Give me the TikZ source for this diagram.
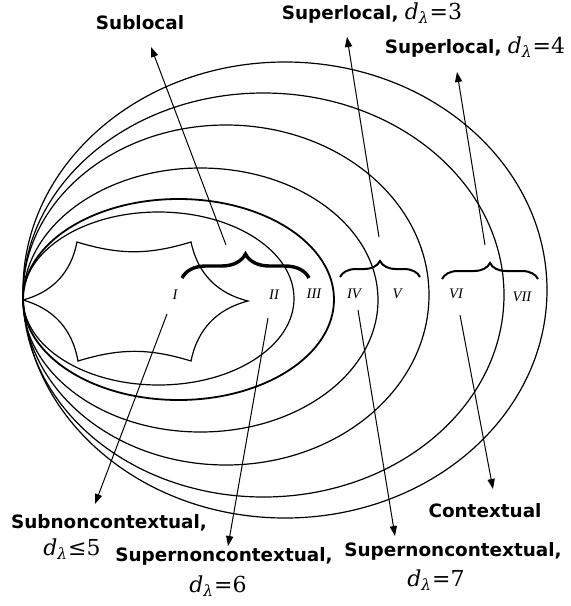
\documentclass[tikz,border=0pt]{standalone}
\usepackage{fontspec}
\setsansfont{DejaVu Sans}
\newfontfamily\dvserif{DejaVu Serif}
\newfontfamily\romfont{Liberation Serif}
\usepackage{tikz}
\usetikzlibrary{arrows.meta,decorations.pathreplacing}
\newcommand{\dval}[1]{{\dvserif\mdseries\fontsize{11}{12}\selectfont{\itshape d\textsubscript{λ}}#1}}
\tikzset{
  ring/.style={draw=black, line width=0.6pt},
  boldring/.style={ring, line width=0.9pt},
  cell/.style={draw=black, line width=0.6pt},
  region/.style={font=\romfont\itshape\fontsize{7.3}{8}\selectfont, inner sep=0pt},
  lbl/.style={font=\sffamily\bfseries\fontsize{9.2}{10}\selectfont, inner sep=0pt},
  mlbl/.style={inner sep=0pt},
  ptr/.style={-{Triangle[length=5pt,width=3.6pt]}, line width=0.5pt},
  bigbrace/.style={decorate, decoration={brace, amplitude=12pt}, line width=1.7pt},
  smbrace/.style={decorate, decoration={brace, amplitude=8pt}, line width=1pt}
}

\begin{document}
\begin{tikzpicture}[x=0.5pt, y=-0.5pt]
  \useasboundingbox (0,0) rectangle (571,606);

  % nested classes, all touching at the left
  \draw[ring]     (158.5,298.5) ellipse [x radius=135.5, y radius=86.5];
  \draw[boldring] (178.5,299.5) ellipse [x radius=155.5, y radius=100.5];
  \draw[ring]     (200.5,300)   ellipse [x radius=177.5, y radius=132];
  \draw[ring]     (226,295)     ellipse [x radius=203,   y radius=170];
  \draw[ring]     (263.5,295)   ellipse [x radius=240.5, y radius=202];
  \draw[ring]     (285,290)     ellipse [x radius=262,   y radius=228];

  % innermost star
  \draw[cell] (23,300) to[bend right=32] (77,242) to[bend right=17] (191,242)
    to[bend right=32] (248,301) to[bend right=32] (191,361)
    to[bend right=17] (78,361) to[bend right=32] (23,300);

  % region numerals
  \node[region] (rI)   at (175,295) {I};
  \node[region] (rII)  at (274,295) {II};
  \node[region] (rIII) at (314,294) {III};
  \node[region] (rIV)  at (354,294) {IV};
  \node[region] (rV)   at (397,294) {V};
  \node[region] (rVI)  at (456,294) {VI};
  \node[region] (rVII) at (522,297) {VII};

  % braces
  \draw[bigbrace] (182,278) -- (309,278);
  \draw[smbrace]  (340,277) -- (420,277);
  \draw[smbrace]  (442,279) -- (538,279);

  % class names
  \node[lbl] (sublocal) at (140,23) {Sublocal};
  \node[lbl] (suploc3)  at (372,13) {Superlocal, \dval{=3}};
  \node[lbl] (suploc4)  at (475,47) {Superlocal, \dval{=4}};
  \node[lbl] (subnc)    at (109,523) {Subnoncontextual,};
  \node[mlbl] (subncd)  at (72,549) {\dval{≤5}};
  \node[lbl] (supnc6)   at (224,556) {Supernoncontextual,};
  \node[mlbl] (supnc6d) at (218,586) {\dval{=6}};
  \node[lbl] (contx)    at (485,511) {Contextual};
  \node[lbl] (supnc7)   at (453,551) {Supernoncontextual,};
  \node[mlbl] (supnc7d) at (436,580) {\dval{=7}};

  % pointer ends
  \coordinate (pSub)  at (226,245);  \coordinate (tSub)  at (151,47);
  \coordinate (pS3)   at (379,237);  \coordinate (tS3)   at (347,37);
  \coordinate (pS4)   at (485,245);  \coordinate (tS4)   at (457,72);
  \coordinate (pI)    at (167,314);  \coordinate (tI)    at (95,504);
  \coordinate (pII)   at (268,318);  \coordinate (tII)   at (228,546);
  \coordinate (pIV)   at (358,310);  \coordinate (tIV)   at (395,536);
  \coordinate (pVI)   at (460,315);  \coordinate (tVI)   at (493,489);

  % pointers
  \draw[ptr] (pSub) -- (tSub);
  \draw[ptr] (pS3) -- (tS3);
  \draw[ptr] (pS4) -- (tS4);
  \draw[ptr] (pI) -- (tI);
  \draw[ptr] (pII) -- (tII);
  \draw[ptr] (pIV) -- (tIV);
  \draw[ptr] (pVI) -- (tVI);
\end{tikzpicture}
\end{document}
